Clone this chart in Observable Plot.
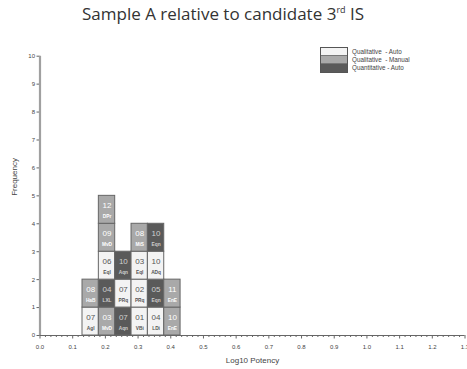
<!DOCTYPE html>
<html>
<head>
<meta charset="utf-8">
<script src="https://cdn.jsdelivr.net/npm/d3@7"></script>
<script src="https://cdn.jsdelivr.net/npm/@observablehq/plot@0.6"></script>
<style>
  body { margin: 0; background: #fff; }
  #wrap { position: relative; width: 467px; height: 369px; overflow: hidden; }
  #title { position: absolute; left: 82px; top: 2px; font-family: "Open Sans"; font-size: 17px; color: #333; white-space: nowrap; }
  #title sup { font-size: 9px; vertical-align: 7px; }
  #legend { position: absolute; left: 320px; top: 47px; }
  #legend .box { position: absolute; left: 0; top: 0; width: 26px; border: 1px solid #555; }
  #legend .sw { height: 8px; border-bottom: 1px solid #777; box-sizing: border-box; }
  #legend .lab { position: absolute; left: 32px; font-family: "Liberation Sans"; font-size: 6.3px; color: #444; white-space: pre; }
</style>
</head>
<body>
<div id="wrap">
  <div id="title">Sample A relative to candidate 3<sup>rd</sup> IS</div>
  <div id="legend"></div>
</div>
<script>
// ---- data ----
const binStart = [0.13, 0.18, 0.23, 0.28, 0.33, 0.38];
const binWidth = 0.05;
// each cell listed bottom-up within its bin
const cellBin    = [0, 0,   1, 1, 1, 1, 1,   2, 2, 2,   3, 3, 3, 3,   4, 4, 4, 4,   5, 5];
const cellLab    = ["07","08", "03","04","06","09","12", "07","07","10", "01","02","03","08", "04","05","10","10", "10","11"];
const cellCode   = ["AgI","HaB", "MvD","LXL","EqI","MvD","DPr", "Aqn","PRq","Aqn", "VBi","PRq","EqI","MiS", "LDi","Eqn","ADq","Eqn", "EnE","EnE"];
const cellMethod = ["QA","QM", "QM","QnA","QA","QM","QM", "QnA","QA","QnA", "QA","QA","QA","QM", "QA","QnA","QA","QnA", "QM","QM"];
const methods = ["QA", "QM", "QnA"];
const methodNames = ["Qualitative  - Auto", "Qualitative  - Manual", "Quantitative - Auto"];
const methodFill = ["#f3f3f3", "#a9a9a9", "#5a5a5a"];
const methodText = ["#555555", "#ffffff", "#d0d0d0"];
const xTicks = [0, 0.1, 0.2, 0.3, 0.4, 0.5, 0.6, 0.7, 0.8, 0.9, 1.0, 1.1, 1.2, 1.3];
const yTicks = [0, 1, 2, 3, 4, 5, 6, 7, 8, 9, 10];

// build cells
const counts = binStart.map(() => 0);
const cells = cellBin.map((b, i) => {
  const row = counts[b]++;
  const m = methods.indexOf(cellMethod[i]);
  return {
    x1: binStart[b], x2: binStart[b] + binWidth, xm: binStart[b] + binWidth / 2,
    y1: row, y2: row + 1, lab: cellLab[i], code: cellCode[i],
    fill: methodFill[m], tfill: methodText[m]
  };
});
const minor = d3.range(0, 79).map(i => i / 60).filter(v => Math.abs(v * 10 - Math.round(v * 10)) > 1e-6 && v <= 1.3);

const chart = Plot.plot({
  width: 467, height: 369,
  marginLeft: 39.5, marginRight: 2.5, marginTop: 55.7, marginBottom: 34,
  style: { fontFamily: "Liberation Sans", fontSize: "6px", color: "#444", background: "transparent" },
  x: { domain: [0, 1.3] },
  y: { domain: [0, 10] },
  color: { type: "identity" },
  marks: [
    Plot.rect(cells, { x1: "x1", x2: "x2", y1: "y1", y2: "y2", fill: "fill", stroke: "#666", strokeWidth: 1 }),
    Plot.text(cells, { x: "xm", y: d => d.y1 + 0.64, text: "lab", fill: "tfill", fontSize: 8 }),
    Plot.text(cells, { x: "xm", y: d => d.y1 + 0.27, text: "code", fill: "tfill", fontSize: 4.8, fontWeight: "bold" }),
    Plot.axisX({ ticks: minor, tickSize: 2, tickFormat: () => "", label: null, stroke: "#666" }),
    Plot.axisX({ ticks: xTicks, tickSize: 3.5, tickPadding: 6, tickFormat: d => d.toFixed(1), label: null, stroke: "#666" }),
    Plot.axisY({ ticks: yTicks, tickSize: 3, tickPadding: 2, tickFormat: d => String(d), label: null, stroke: "#666" }),
    Plot.ruleY([0], { stroke: "#666", strokeWidth: 1 }),
    Plot.ruleX([0], { stroke: "#a0a0a0", strokeWidth: 2.2 }),
    Plot.text(["Frequency"], { frameAnchor: "left", dx: -26, rotate: -90, fontSize: 8, fill: "#444" }),
    Plot.text(["Log10 Potency"], { frameAnchor: "bottom", dy: 27, fontSize: 8, fill: "#444" })
  ]
});
chart.style.position = "absolute";
chart.style.left = "0px";
chart.style.top = "0px";
document.getElementById("wrap").insertBefore(chart, document.getElementById("title"));

// legend
const leg = document.getElementById("legend");
const box = document.createElement("div");
box.className = "box";
methods.forEach((m, i) => {
  const s = document.createElement("div");
  s.className = "sw";
  s.style.background = methodFill[i];
  if (i === methods.length - 1) s.style.borderBottom = "none";
  box.appendChild(s);
  const t = document.createElement("div");
  t.className = "lab";
  t.style.top = (0.5 + i * 8) + "px";
  t.textContent = methodNames[i];
  leg.appendChild(t);
});
leg.appendChild(box);
</script>
</body>
</html>
